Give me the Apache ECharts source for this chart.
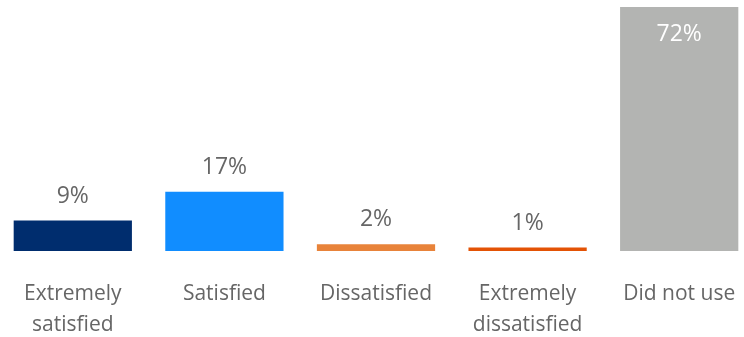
<!DOCTYPE html>
<html><head><meta charset="utf-8">
<script src="https://cdn.jsdelivr.net/npm/echarts@6/dist/echarts.min.js"></script>
<style>html,body{margin:0;padding:0;background:#fff}#c{width:744px;height:337px}</style>
</head><body><div id="c"></div>
<script>
const categories = ["Extremely\nsatisfied", "Satisfied", "Dissatisfied", "Extremely\ndissatisfied", "Did not use"];
const values = [9, 17.5, 2, 1, 72];
const valueLabels = ["9%", "17%", "2%", "1%", "72%"];
const colors = ["#002d6e", "#118dff", "#e8833a", "#e35205", "#b3b4b2"];

const chart = echarts.init(document.getElementById('c'));
const font = "'Open Sans', sans-serif";
chart.setOption({
  animation: false,
  grid: {left: -3, right: -11, top: 7, bottom: 86, containLabel: false, outerBoundsMode: 'none'},
  xAxis: {
    type: 'category', data: categories,
    axisLine: {show: false}, axisTick: {show: false},
    axisLabel: {color: '#666666', fontFamily: font, fontSize: 21, lineHeight: 31, margin: 28, interval: 0}
  },
  yAxis: {type: 'value', min: 0, max: 72, show: false, splitLine: {show: false}},
  series: [{
    type: 'bar', barCategoryGap: '22%',
    data: values.map((v, i) => ({
      value: v,
      itemStyle: {color: colors[i]},
      label: i === 4 ? {position: 'insideTop', distance: 16, color: '#ffffff'} : {}
    })),
    label: {
      show: true, position: 'top', distance: 13,
      color: '#666666', fontFamily: font, fontSize: 23,
      formatter: p => valueLabels[p.dataIndex]
    }
  }]
});
</script></body></html>
